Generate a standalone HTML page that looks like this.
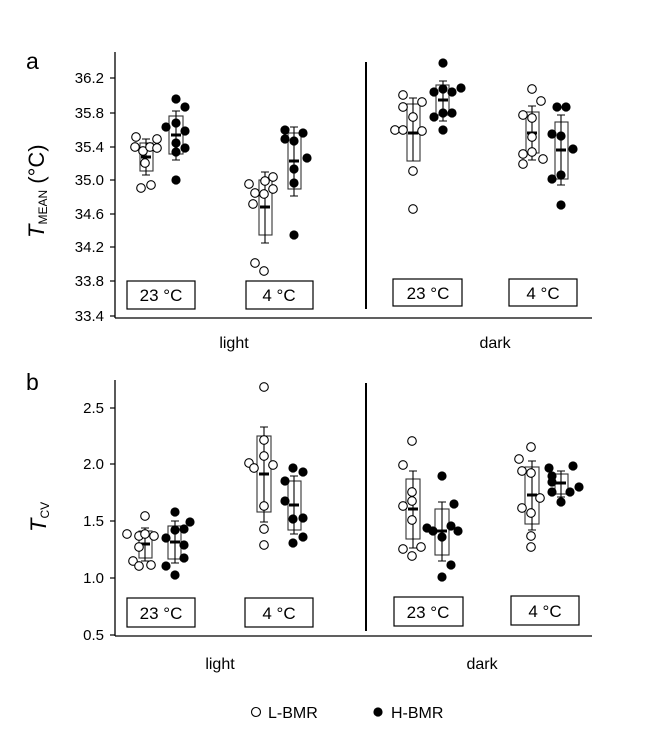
<!DOCTYPE html><html><head><style>body{margin:0;background:#fff}</style></head><body>
<svg width="651" height="735" xmlns="http://www.w3.org/2000/svg" font-family="Liberation Sans, sans-serif">
<rect width="651" height="735" fill="#fff"/>
<g stroke="#000" stroke-width="1.3">
<line x1="115" y1="52" x2="115" y2="318"/><line x1="115" y1="318" x2="592" y2="318"/>
<line x1="366" y1="62" x2="366" y2="309" stroke-width="2"/>
<line x1="115" y1="380" x2="115" y2="636"/><line x1="115" y1="636" x2="592" y2="636"/>
<line x1="366" y1="383" x2="366" y2="631" stroke-width="2"/>
</g>
<g stroke="#000" stroke-width="1.2">
<line x1="110" y1="78" x2="115" y2="78"/><line x1="110" y1="113" x2="115" y2="113"/><line x1="110" y1="147" x2="115" y2="147"/><line x1="110" y1="180" x2="115" y2="180"/><line x1="110" y1="214" x2="115" y2="214"/><line x1="110" y1="247" x2="115" y2="247"/><line x1="110" y1="281" x2="115" y2="281"/><line x1="110" y1="316" x2="115" y2="316"/>
<line x1="110" y1="408" x2="115" y2="408"/><line x1="110" y1="464" x2="115" y2="464"/><line x1="110" y1="521" x2="115" y2="521"/><line x1="110" y1="578" x2="115" y2="578"/><line x1="110" y1="635" x2="115" y2="635"/>
</g>
<g font-size="15" text-anchor="end">
<text x="104" y="83">36.2</text><text x="104" y="118">35.8</text><text x="104" y="152">35.4</text><text x="104" y="185">35.0</text><text x="104" y="219">34.6</text><text x="104" y="252">34.2</text><text x="104" y="286">33.8</text><text x="104" y="321">33.4</text>
<text x="104" y="413">2.5</text><text x="104" y="469">2.0</text><text x="104" y="526">1.5</text><text x="104" y="583">1.0</text><text x="104" y="640">0.5</text>
</g>
<text x="26" y="69" font-size="23">a</text><text x="26" y="390" font-size="23">b</text>
<text transform="translate(44,238) rotate(-90)" font-size="22"><tspan font-style="italic">T</tspan><tspan font-size="12" dy="3">MEAN</tspan><tspan dy="-3"> (°C)</tspan></text>
<text transform="translate(46,532) rotate(-90)" font-size="22"><tspan font-style="italic">T</tspan><tspan font-size="12" dy="3">CV</tspan></text>
<g font-size="16" text-anchor="middle">
<text x="234" y="348">light</text><text x="495" y="348">dark</text>
<text x="220" y="669">light</text><text x="482" y="669">dark</text>
</g>
<g fill="#fff" stroke="#000" stroke-width="1.2">
<rect x="127" y="281" width="68" height="28"/><rect x="246" y="281" width="67" height="28"/><rect x="393" y="279" width="69" height="27"/><rect x="509" y="279" width="68" height="27"/>
<rect x="127" y="598" width="68" height="29"/><rect x="245" y="598" width="68" height="29"/><rect x="394" y="597" width="69" height="29"/><rect x="511" y="596" width="68" height="29"/>
</g>
<g font-size="17" text-anchor="middle">
<text x="161" y="301">23 °C</text><text x="279" y="301">4 °C</text><text x="428" y="299">23 °C</text><text x="543" y="299">4 °C</text>
<text x="161" y="619">23 °C</text><text x="279" y="619">4 °C</text><text x="428" y="618">23 °C</text><text x="545" y="617">4 °C</text>
</g>
<!-- boxes: center, x0,x1, boxTop, boxBot, whTop, whBot, mean -->
<g fill="none" stroke="#333" stroke-width="1.1">
<rect x="140" y="143" width="13" height="28"/><rect x="169" y="116" width="14" height="38"/><rect x="259" y="180" width="13" height="55"/><rect x="288" y="133" width="13" height="56"/>
<rect x="407" y="104" width="13" height="57"/><rect x="436" y="85" width="13" height="30"/><rect x="526" y="112" width="13" height="41"/><rect x="555" y="122" width="13" height="57"/>
<rect x="139" y="531" width="13" height="27"/><rect x="168" y="526" width="13" height="33"/><rect x="257" y="436" width="14" height="76"/><rect x="288" y="481" width="13" height="49"/>
<rect x="406" y="479" width="14" height="60"/><rect x="435" y="509" width="14" height="46"/><rect x="525" y="467" width="14" height="57"/><rect x="555" y="474" width="13" height="20"/>
</g>
<g stroke="#000" stroke-width="1.1" fill="none">
<path d="M146 139V175M142 139h8M142 175h8 M176 111V160M172 111h8M172 160h8 M265 172V243M261 172h8M261 243h8 M294 127V196M290 127h8M290 196h8
M413 98V161M409 98h8 M443 81V121M439 81h8M439 121h8 M532 106V160M528 106h8M528 160h8 M561 115V185M557 115h8M557 185h8
M145 528V561M141 528h8M141 561h8 M175 521V563M171 521h8M171 563h8 M264 427V522M260 427h8M260 522h8 M294 476V534M290 476h8M290 534h8
M413 471V548M409 471h8M409 548h8 M442 502V561M438 502h8M438 561h8 M532 461V530M528 461h8M528 530h8 M561 471V497M557 471h8M557 497h8"/>
</g>
<g stroke="#000" stroke-width="3">
<path d="M141 157h10M171 135h10M260 207h10M289 161h10M408 133h10M438 100h10M527 133h10M556 150h10
M140 544h10M170 542h10M259 474h10M289 505h10M408 509h10M437 531h10M527 495h10M556 483h10"/>
</g>
<g fill="#fff" stroke="#000" stroke-width="1.1">
<circle cx="136" cy="137" r="4.3"/><circle cx="135" cy="147" r="4.3"/><circle cx="143" cy="151" r="4.3"/><circle cx="145" cy="163" r="4.3"/><circle cx="150" cy="147" r="4.3"/><circle cx="157" cy="139" r="4.3"/><circle cx="157" cy="148" r="4.3"/><circle cx="141" cy="188" r="4.3"/><circle cx="151" cy="185" r="4.3"/>
<circle cx="249" cy="184" r="4.3"/><circle cx="255" cy="193" r="4.3"/><circle cx="264" cy="194" r="4.3"/><circle cx="265" cy="181" r="4.3"/><circle cx="273" cy="177" r="4.3"/><circle cx="273" cy="189" r="4.3"/><circle cx="253" cy="204" r="4.3"/><circle cx="255" cy="263" r="4.3"/><circle cx="264" cy="271" r="4.3"/>
<circle cx="403" cy="95" r="4.3"/><circle cx="403" cy="107" r="4.3"/><circle cx="422" cy="102" r="4.3"/><circle cx="413" cy="117" r="4.3"/><circle cx="395" cy="130" r="4.3"/><circle cx="403" cy="130" r="4.3"/><circle cx="422" cy="131" r="4.3"/><circle cx="413" cy="171" r="4.3"/><circle cx="413" cy="209" r="4.3"/>
<circle cx="532" cy="89" r="4.3"/><circle cx="541" cy="101" r="4.3"/><circle cx="523" cy="115" r="4.3"/><circle cx="532" cy="118" r="4.3"/><circle cx="532" cy="137" r="4.3"/><circle cx="523" cy="154" r="4.3"/><circle cx="532" cy="152" r="4.3"/><circle cx="523" cy="164" r="4.3"/><circle cx="543" cy="159" r="4.3"/>
<circle cx="145" cy="516" r="4.3"/><circle cx="127" cy="534" r="4.3"/><circle cx="139" cy="536" r="4.3"/><circle cx="145" cy="534" r="4.3"/><circle cx="154" cy="536" r="4.3"/><circle cx="139" cy="547" r="4.3"/><circle cx="133" cy="561" r="4.3"/><circle cx="139" cy="566" r="4.3"/><circle cx="151" cy="565" r="4.3"/>
<circle cx="264" cy="387" r="4.3"/><circle cx="264" cy="440" r="4.3"/><circle cx="264" cy="456" r="4.3"/><circle cx="249" cy="463" r="4.3"/><circle cx="254" cy="468" r="4.3"/><circle cx="273" cy="465" r="4.3"/><circle cx="264" cy="506" r="4.3"/><circle cx="264" cy="529" r="4.3"/><circle cx="264" cy="545" r="4.3"/>
<circle cx="412" cy="441" r="4.3"/><circle cx="403" cy="465" r="4.3"/><circle cx="412" cy="492" r="4.3"/><circle cx="412" cy="501" r="4.3"/><circle cx="403" cy="506" r="4.3"/><circle cx="412" cy="520" r="4.3"/><circle cx="403" cy="549" r="4.3"/><circle cx="412" cy="556" r="4.3"/><circle cx="421" cy="547" r="4.3"/>
<circle cx="531" cy="447" r="4.3"/><circle cx="519" cy="459" r="4.3"/><circle cx="522" cy="471" r="4.3"/><circle cx="531" cy="473" r="4.3"/><circle cx="540" cy="498" r="4.3"/><circle cx="522" cy="508" r="4.3"/><circle cx="531" cy="513" r="4.3"/><circle cx="531" cy="536" r="4.3"/><circle cx="531" cy="547" r="4.3"/>
<circle cx="256" cy="712" r="4.5"/>
</g>
<g fill="#000">
<circle cx="176" cy="99" r="4.6"/><circle cx="185" cy="107" r="4.6"/><circle cx="166" cy="127" r="4.6"/><circle cx="176" cy="123" r="4.6"/><circle cx="185" cy="131" r="4.6"/><circle cx="176" cy="143" r="4.6"/><circle cx="176" cy="152" r="4.6"/><circle cx="185" cy="148" r="4.6"/><circle cx="176" cy="180" r="4.6"/>
<circle cx="285" cy="130" r="4.6"/><circle cx="303" cy="133" r="4.6"/><circle cx="285" cy="139" r="4.6"/><circle cx="294" cy="141" r="4.6"/><circle cx="307" cy="158" r="4.6"/><circle cx="294" cy="169" r="4.6"/><circle cx="294" cy="183" r="4.6"/><circle cx="294" cy="235" r="4.6"/>
<circle cx="443" cy="63" r="4.6"/><circle cx="434" cy="92" r="4.6"/><circle cx="443" cy="89" r="4.6"/><circle cx="452" cy="92" r="4.6"/><circle cx="461" cy="88" r="4.6"/><circle cx="434" cy="117" r="4.6"/><circle cx="443" cy="113" r="4.6"/><circle cx="452" cy="113" r="4.6"/><circle cx="443" cy="130" r="4.6"/>
<circle cx="557" cy="107" r="4.6"/><circle cx="566" cy="107" r="4.6"/><circle cx="552" cy="134" r="4.6"/><circle cx="561" cy="136" r="4.6"/><circle cx="573" cy="149" r="4.6"/><circle cx="561" cy="175" r="4.6"/><circle cx="552" cy="179" r="4.6"/><circle cx="561" cy="205" r="4.6"/>
<circle cx="175" cy="512" r="4.6"/><circle cx="190" cy="522" r="4.6"/><circle cx="166" cy="538" r="4.6"/><circle cx="175" cy="530" r="4.6"/><circle cx="184" cy="529" r="4.6"/><circle cx="184" cy="545" r="4.6"/><circle cx="184" cy="558" r="4.6"/><circle cx="166" cy="566" r="4.6"/><circle cx="175" cy="575" r="4.6"/>
<circle cx="293" cy="468" r="4.6"/><circle cx="303" cy="472" r="4.6"/><circle cx="285" cy="481" r="4.6"/><circle cx="285" cy="501" r="4.6"/><circle cx="293" cy="519" r="4.6"/><circle cx="303" cy="518" r="4.6"/><circle cx="293" cy="543" r="4.6"/><circle cx="303" cy="537" r="4.6"/>
<circle cx="442" cy="476" r="4.6"/><circle cx="454" cy="504" r="4.6"/><circle cx="427" cy="528" r="4.6"/><circle cx="433" cy="531" r="4.6"/><circle cx="442" cy="537" r="4.6"/><circle cx="451" cy="526" r="4.6"/><circle cx="458" cy="531" r="4.6"/><circle cx="451" cy="565" r="4.6"/><circle cx="442" cy="577" r="4.6"/>
<circle cx="549" cy="468" r="4.6"/><circle cx="573" cy="466" r="4.6"/><circle cx="552" cy="476" r="4.6"/><circle cx="552" cy="482" r="4.6"/><circle cx="552" cy="492" r="4.6"/><circle cx="570" cy="492" r="4.6"/><circle cx="579" cy="487" r="4.6"/><circle cx="561" cy="502" r="4.6"/>
<circle cx="378" cy="712" r="4.6"/>
</g>
<g font-size="16"><text x="268" y="718">L-BMR</text><text x="391" y="718">H-BMR</text></g>
</svg>
</body></html>
